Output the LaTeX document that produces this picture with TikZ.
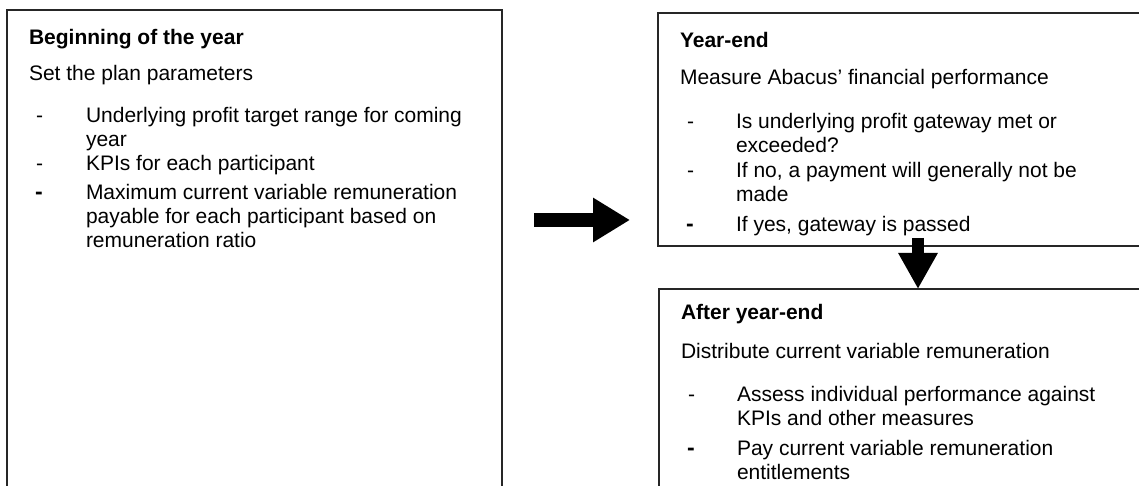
\documentclass[tikz,border=0pt]{standalone}
\usepackage{fontspec}
\setmainfont{Liberation Sans}
\usetikzlibrary{arrows.meta}
\tikzset{
  frame/.style={draw=black!85, line width=1.4bp, inner sep=0pt, outer sep=0pt, anchor=north west},
  txt/.style={anchor=base west, inner sep=0pt, outer sep=0pt, font=\fontsize{21bp}{24bp}\selectfont},
  ttl/.style={txt, font=\fontsize{21bp}{24bp}\selectfont\bfseries},
  dsh/.style={txt},
  bigdsh/.style={txt, font=\fontsize{23bp}{24bp}\selectfont\bfseries},
  bigarrow/.style={line width=14bp, -{Triangle[length=37bp, width=42bp]}},
  downarrow/.style={line width=11.5bp, -{Triangle[length=36bp, width=37bp]}}
}
\begin{document}
\begin{tikzpicture}[x=1bp, y=-1bp]
\useasboundingbox (0,0) rectangle (1139,486);
\clip (0,0) rectangle (1139,486);
% boxes
\node[frame, minimum width=495bp, minimum height=520bp] (B1) at (7,10) {};
\node[frame, minimum width=520bp, minimum height=233bp] (B2) at (658,13) {};
\node[frame, minimum width=520bp, minimum height=260bp] (B3) at (659,289) {};
% left box text
\node[ttl] (t1) at (29,45) {Beginning of the year};
\node[txt] (s1) at (29,81) {Set the plan parameters};
\node[dsh] (d11) at (36,123) {-};
\node[txt] (l11) at (86,123) {Underlying profit target range for coming};
\node[txt] (l12) at (86,147) {year};
\node[dsh] (d12) at (36,171) {-};
\node[txt] (l13) at (86,171) {KPIs for each participant};
\node[bigdsh] (d13) at (35,200) {-};
\node[txt] (l14) at (86,200) {Maximum current variable remuneration};
\node[txt] (l15) at (86,224) {payable for each participant based on};
\node[txt] (l16) at (86,248) {remuneration ratio};
% year-end text
\node[ttl] (t2) at (680,48) {Year-end};
\node[txt] (s2) at (680,85) {Measure Abacus’ financial performance};
\node[dsh] (d21) at (687,129) {-};
\node[txt] (l21) at (736,129) {Is underlying profit gateway met or};
\node[txt] (l22) at (736,153) {exceeded?};
\node[dsh] (d22) at (687,178) {-};
\node[txt] (l23) at (736,178) {If no, a payment will generally not be};
\node[txt] (l24) at (736,202) {made};
\node[bigdsh] (d23) at (686,232) {-};
\node[txt] (l25) at (736,232) {If yes, gateway is passed};
% after year-end text
\node[ttl] (t3) at (681,320) {After year-end};
\node[txt] (s3) at (681,359) {Distribute current variable remuneration};
\node[dsh] (d31) at (688,401) {-};
\node[txt] (l31) at (737,401) {Assess individual performance against};
\node[txt] (l32) at (737,425) {KPIs and other measures};
\node[bigdsh] (d32) at (687,455) {-};
\node[txt] (l33) at (737,455) {Pay current variable remuneration};
\node[txt] (l34) at (737,479) {entitlements};
% arrows
\coordinate (ra) at (534,220);
\coordinate (rb) at (630,220);
\draw[bigarrow] (ra) -- (rb);
\coordinate (da) at (918,238);
\coordinate (db) at (918,289);
\draw[downarrow] (da) -- (db);
\end{tikzpicture}
\end{document}
